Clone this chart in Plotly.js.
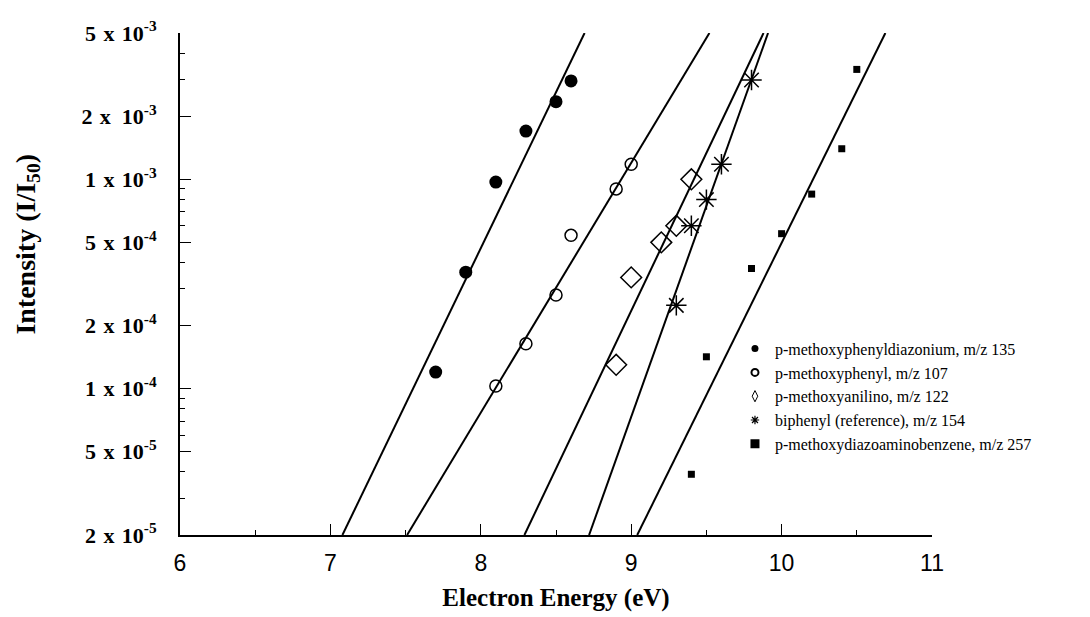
<!DOCTYPE html>
<html>
<head>
<meta charset="utf-8">
<script src="https://cdn.plot.ly/plotly-3.0.1.min.js"></script>
<style>
  html, body { margin: 0; padding: 0; background: #fff; }
  #chart { width: 1090px; height: 617px; }
</style>
</head>
<body>
<div id="chart"></div>
<script>
// ---- Data ----
const seriesNames = [
  "p-methoxyphenyldiazonium, m/z 135",
  "p-methoxyphenyl, m/z 107",
  "p-methoxyanilino, m/z 122",
  "biphenyl (reference), m/z 154",
  "p-methoxydiazoaminobenzene, m/z 257"
];

const diazoniumX = [7.7, 7.9, 8.1, 8.3, 8.5, 8.6];
const diazoniumY = [1.2e-4, 3.6e-4, 9.7e-4, 1.7e-3, 2.35e-3, 2.95e-3];

const phenylX = [8.1, 8.3, 8.5, 8.6, 8.9, 9.0];
const phenylY = [1.03e-4, 1.64e-4, 2.8e-4, 5.4e-4, 9.0e-4, 1.18e-3];

const anilinoX = [8.9, 9.0, 9.2, 9.3, 9.4];
const anilinoY = [1.3e-4, 3.4e-4, 5.0e-4, 6.0e-4, 1.0e-3];

const biphenylX = [9.3, 9.4, 9.5, 9.6, 9.8];
const biphenylY = [2.5e-4, 6.0e-4, 8.0e-4, 1.18e-3, 2.98e-3];

const diazoaminoX = [9.4, 9.5, 9.8, 10.0, 10.2, 10.4, 10.5];
const diazoaminoY = [3.9e-5, 1.42e-4, 3.75e-4, 5.5e-4, 8.5e-4, 1.4e-3, 3.35e-3];

// Fitted straight lines (end points at the bottom and top of the plot)
const fitDiazoniumX = [7.08, 8.69];
const fitPhenylX    = [7.51, 9.52];
const fitAnilinoX   = [8.29, 9.88];
const fitBiphenylX  = [8.72, 9.91];
const fitDiazoaminoX = [9.04, 10.69];
const fitY = [2e-5, 5e-3];

// Axis ticks
const S = "&#8196;";   // spacing used in the printed labels
const E = "&#8194;";
const yTickVals = [2e-5, 5e-5, 1e-4, 2e-4, 5e-4, 1e-3, 2e-3, 5e-3];
const yTickText = [
  "2" + S + "x" + S + "10<sup>-5</sup>", "5" + S + "x" + S + "10<sup>-5</sup>",
  "1" + S + "x" + S + "10<sup>-4</sup>", "2" + S + "x" + S + "10<sup>-4</sup>",
  "5" + S + "x" + S + "10<sup>-4</sup>", "1" + S + "x" + S + "10<sup>-3</sup>",
  "2" + S + "x" + E + "10<sup>-3</sup>", "5" + S + "x" + S + "10<sup>-3</sup>"
];
const xTickVals = [6, 7, 8, 9, 10, 11];
const xTitle = "Electron Energy (eV)";
const yTitle = "Intensity (I/I<sub>50</sub>)";

// ---- Build the figure ----
const minorY = [];
[1e-5, 1e-4, 1e-3].forEach(d => { for (let k = 1; k <= 9; k++) { const v = k * d; if (v >= 2e-5 && v <= 5e-3) minorY.push(v); } });

const serif = "'Liberation Serif', 'Times New Roman', serif";
const sans = "'Liberation Sans', Arial, sans-serif";

function fit(xs) {
  return { x: xs, y: fitY, mode: 'lines', type: 'scatter', line: { color: '#000', width: 2 }, showlegend: false, hoverinfo: 'skip' };
}
function pts(xs, ys, marker) {
  return { x: xs, y: ys, mode: 'markers', type: 'scatter', marker: marker, showlegend: false };
}
function leg(name, marker) {
  return { x: [null], y: [null], mode: 'markers', type: 'scatter', name: name, marker: marker, showlegend: true };
}

const data = [
  fit(fitDiazoniumX), fit(fitPhenylX), fit(fitAnilinoX), fit(fitBiphenylX), fit(fitDiazoaminoX),
  pts(diazoniumX, diazoniumY, { symbol: 'circle', size: 13, color: '#000' }),
  pts(phenylX, phenylY, { symbol: 'circle-open', size: 12, color: '#000', line: { width: 1.5, color: '#000' } }),
  pts(anilinoX, anilinoY, { symbol: 'diamond-open', size: 16, color: '#000', line: { width: 1.5, color: '#000' } }),
  pts(biphenylX, biphenylY, { symbol: 'asterisk-open', size: 17, color: '#000', line: { width: 1.5, color: '#000' } }),
  pts(diazoaminoX, diazoaminoY, { symbol: 'square', size: 7, color: '#000' }),
  leg(seriesNames[0], { symbol: 'circle', size: 7, color: '#000' }),
  leg(seriesNames[1], { symbol: 'circle-open', size: 7, color: '#000', line: { width: 2, color: '#000' } }),
  leg(seriesNames[2], { symbol: 'diamond-tall-open', size: 8, color: '#000', line: { width: 1, color: '#000' } }),
  leg(seriesNames[3], { symbol: 'asterisk-open', size: 7, color: '#000', line: { width: 1.2, color: '#000' } }),
  leg(seriesNames[4], { symbol: 'square', size: 9, color: '#000' })
];

const layout = {
  width: 1090, height: 617,
  paper_bgcolor: '#fff', plot_bgcolor: '#fff',
  margin: { l: 180, r: 157.5, t: 33, b: 82, pad: 0 },
  showlegend: true,
  legend: {
    x: 0.738, y: 0.405, xanchor: 'left', yanchor: 'top',
    font: { family: serif, size: 16, color: '#000' },
    bgcolor: 'rgba(0,0,0,0)', borderwidth: 0, tracegroupgap: 0
  },
  xaxis: {
    type: 'linear', range: [6, 11], tickmode: 'array', tickvals: xTickVals,
    ticks: 'inside', ticklen: 11, tickwidth: 1, tickcolor: '#000',
    minor: { dtick: 0.5, ticks: 'inside', ticklen: 5, tickwidth: 1, tickcolor: '#000' },
    showline: true, linecolor: '#000', linewidth: 2, mirror: false,
    showgrid: false, zeroline: false,
    tickfont: { family: sans, size: 23, color: '#000' },
    ticklabelstandoff: 6,
    title: { text: '<b>' + xTitle + '</b>', font: { family: serif, size: 25, color: '#000' }, standoff: 14 }
  },
  yaxis: {
    type: 'log', range: [Math.log10(2e-5), Math.log10(5e-3)],
    tickmode: 'array', tickvals: yTickVals, ticktext: yTickText,
    ticks: 'inside', ticklen: 11, tickwidth: 1, tickcolor: '#000',
    minor: { tickmode: 'array', tickvals: minorY, ticks: 'inside', ticklen: 5, tickwidth: 1, tickcolor: '#000' },
    showline: true, linecolor: '#000', linewidth: 2, mirror: false,
    showgrid: false, zeroline: false,
    tickfont: { family: serif, size: 22, color: '#000', weight: 'bold' },
    ticklabelstandoff: 17
  },
  annotations: [{
    xref: 'paper', yref: 'paper', x: (27.5 - 180) / 752.5, y: (535 - 244) / 502,
    xanchor: 'center', yanchor: 'middle', textangle: -90, showarrow: false,
    text: '<b>' + yTitle + '</b>', font: { family: serif, size: 28, color: '#000' }
  }]
};

Plotly.newPlot('chart', data, layout, { staticPlot: true, displayModeBar: false });
</script>
</body>
</html>
